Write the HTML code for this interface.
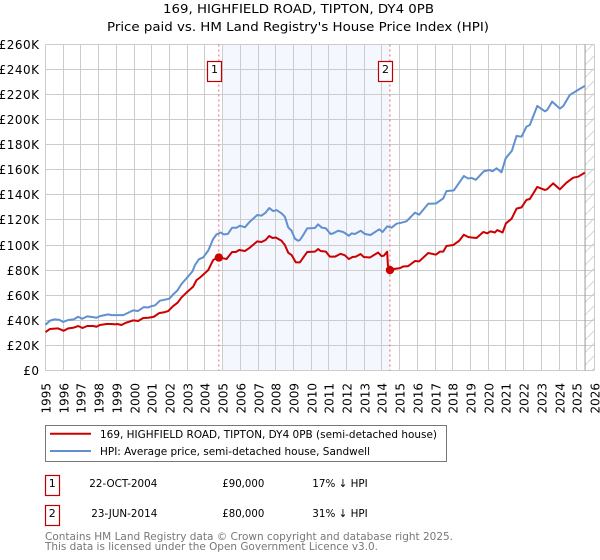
<!DOCTYPE html>
<html>
<head>
<meta charset="utf-8">
<title>169, HIGHFIELD ROAD, TIPTON, DY4 0PB</title>
<style>
html,body{margin:0;padding:0;background:#fff;width:600px;height:560px;overflow:hidden}
svg{display:block;font-family:"DejaVu Sans","Liberation Sans",sans-serif}
</style>
</head>
<body>
<svg id="chart" xmlns="http://www.w3.org/2000/svg" width="600" height="560" viewBox="0 0 600 560">
  <defs>
    <pattern id="hatch" patternUnits="userSpaceOnUse" width="12.5" height="12.5">
      <line x1="0" y1="12.5" x2="12.5" y2="0" stroke="#d4d4d4" stroke-width="1"/>
    </pattern>
  </defs>
  <text x="163" y="13" font-size="12.5" fill="#000" textLength="271" lengthAdjust="spacingAndGlyphs">169, HIGHFIELD ROAD, TIPTON, DY4 0PB</text>
  <text x="107" y="31" font-size="12.5" fill="#000" textLength="382" lengthAdjust="spacingAndGlyphs">Price paid vs. HM Land Registry's House Price Index (HPI)</text>
  <g id="plot"></g>

  <g>
    <rect x="45.5" y="425.5" width="401" height="36" fill="#fff" stroke="#777" stroke-width="1"/>
    <line x1="50" y1="433.7" x2="91" y2="433.7" stroke="#cc0000" stroke-width="2"/>
    <text x="100" y="438" font-size="11" textLength="337" lengthAdjust="spacingAndGlyphs">169, HIGHFIELD ROAD, TIPTON, DY4 0PB (semi-detached house)</text>
    <line x1="50" y1="451" x2="91" y2="451" stroke="#6090d0" stroke-width="2"/>
    <text x="100" y="455" font-size="11" textLength="270" lengthAdjust="spacingAndGlyphs">HPI: Average price, semi-detached house, Sandwell</text>
  </g>

  <g font-size="11">
    <rect x="45.5" y="475.5" width="14" height="20" fill="#fff" stroke="#c00000" stroke-width="1.2"/>
    <text x="52.2" y="487" text-anchor="middle">1</text>
    <text x="89.3" y="487" textLength="68" lengthAdjust="spacingAndGlyphs">22-OCT-2004</text>
    <text x="222.3" y="487" textLength="42" lengthAdjust="spacingAndGlyphs">£90,000</text>
    <text x="312.3" y="487" textLength="55.4" lengthAdjust="spacingAndGlyphs">17% ↓ HPI</text>
  </g>
  <g font-size="11">
    <rect x="45.5" y="505.5" width="14" height="20" fill="#fff" stroke="#c00000" stroke-width="1.2"/>
    <text x="52.2" y="517" text-anchor="middle">2</text>
    <text x="91.3" y="517" textLength="66" lengthAdjust="spacingAndGlyphs">23-JUN-2014</text>
    <text x="222.3" y="517" textLength="42" lengthAdjust="spacingAndGlyphs">£80,000</text>
    <text x="312.3" y="517" textLength="55.4" lengthAdjust="spacingAndGlyphs">31% ↓ HPI</text>
  </g>

  <text x="45" y="540" font-size="11" fill="#777" textLength="408" lengthAdjust="spacingAndGlyphs">Contains HM Land Registry data © Crown copyright and database right 2025.</text>
  <text x="45" y="550" font-size="11" fill="#777" textLength="333" lengthAdjust="spacingAndGlyphs">This data is licensed under the Open Government Licence v3.0.</text>
</svg>
<script>
const xTickYears = [1995,1996,1997,1998,1999,2000,2001,2002,2003,2004,2005,2006,2007,2008,2009,2010,2011,2012,2013,2014,2015,2016,2017,2018,2019,2020,2021,2022,2023,2024,2025,2026];
const yTickValues = [0,20,40,60,80,100,120,140,160,180,200,220,240,260];
const yTickLabels = ['£0','£20K','£40K','£60K','£80K','£100K','£120K','£140K','£160K','£180K','£200K','£220K','£240K','£260K'];

const hpiYears = [1995.02,1995.26,1995.51,1995.79,1996.02,1996.30,1996.62,1996.86,1997.09,1997.37,1997.71,1997.90,1998.09,1998.56,1998.75,1999.41,1999.69,1999.97,2000.25,2000.57,2000.82,2001.01,2001.20,2001.48,2001.76,2002.01,2002.23,2002.46,2002.70,2002.98,2003.32,2003.46,2003.68,2003.93,2004.21,2004.49,2004.68,2004.91,2005.09,2005.32,2005.56,2005.81,2006.00,2006.28,2006.56,2006.98,2007.22,2007.45,2007.66,2007.88,2008.07,2008.35,2008.54,2008.73,2008.92,2009.11,2009.29,2009.39,2009.58,2009.80,2010.24,2010.42,2010.61,2010.86,2011.12,2011.27,2011.55,2011.84,2012.16,2012.31,2012.50,2012.82,2013.06,2013.38,2013.87,2014.06,2014.32,2014.57,2014.85,2015.13,2015.41,2015.89,2016.13,2016.64,2017.07,2017.49,2017.67,2018.09,2018.65,2018.90,2019.09,2019.33,2019.78,2020.12,2020.27,2020.50,2020.78,2021.01,2021.37,2021.63,2021.91,2022.19,2022.38,2022.80,2023.23,2023.36,2023.64,2024.08,2024.27,2024.64,2025.11,2025.49];
const hpiValues = [36.4,39.6,40.7,40.4,38.6,40.2,40.7,42.8,41.2,43.1,42.5,42,43.3,44.7,44.1,44.1,46,47.9,47.4,50.5,50.2,51.3,51.8,55.6,56.4,57.2,60.6,63.6,68.9,73.4,79,84,88.6,90.2,95.5,104.8,108.5,110,108.5,108.8,113.8,113.8,115.4,114.1,118.6,123.9,123.4,125.8,129.5,127.1,127.9,125.3,122.6,114,111.4,105,103.4,104,108,113.3,113.6,116.5,114,113.3,108.8,109.3,111.4,110.4,107.4,109.3,108.8,111.4,108.8,108,112.5,110.4,114.9,113.8,117,117.8,118.9,125.8,124.2,132.9,133.1,137.2,143,143.6,155,153,153.5,152,158.8,159.8,158.8,161.2,158,169,175.3,187,186.4,194.4,195.7,210.9,206.6,207.7,214.4,208.8,210.9,219.7,223.7,226.9];

const priceYears = [1995.02,1995.26,1995.73,1996.05,1996.30,1996.58,1996.86,1997.11,1997.37,1997.71,1997.90,1998.09,1998.47,1998.75,1998.94,1999.07,1999.31,1999.56,1999.97,2000.25,2000.54,2000.82,2001.14,2001.44,2001.76,2001.95,2002.23,2002.48,2002.70,2002.98,2003.36,2003.55,2003.74,2004.21,2004.49,2004.77,2005.06,2005.24,2005.56,2005.77,2005.96,2006.28,2006.56,2006.98,2007.22,2007.45,2007.66,2007.84,2008.03,2008.35,2008.54,2008.73,2008.92,2009.16,2009.39,2009.58,2009.80,2010.24,2010.42,2010.56,2010.86,2011.08,2011.37,2011.69,2011.93,2012.16,2012.36,2012.55,2012.82,2013.00,2013.34,2013.81,2014.00,2014.13,2014.32,2014.36,2014.44,2014.75,2015.04,2015.23,2015.51,2015.89,2016.13,2016.64,2017.07,2017.30,2017.49,2017.67,2018.05,2018.39,2018.65,2018.90,2019.09,2019.37,2019.75,2019.97,2020.16,2020.41,2020.54,2020.84,2021.03,2021.35,2021.63,2021.91,2022.19,2022.38,2022.80,2023.23,2023.36,2023.70,2024.08,2024.45,2024.83,2025.11,2025.49];
const priceValues = [30.6,33,33.5,31.6,33.5,34,35.4,33.8,35.4,35.4,34.8,36.2,37,37,36.7,37,36.2,38,39.9,39.4,41.8,42,42.8,45.7,46.5,47.3,51.3,54,58.2,62,66.8,72,74,80,88,90.4,89.4,88.8,94.4,94.4,96,95.2,97.9,102.9,102.4,104,107.2,105.6,106,103.4,100,93.9,92,86.2,86.2,90,94.4,94.7,96.8,95.2,94.7,90.7,90.7,93,91.8,88.8,90.4,90.7,92.8,90.4,90,94,91.2,91.4,94.7,84,80,81,81.6,82.9,83.2,87.2,87,93.6,92.3,94.7,94.7,99.2,100,103.4,108.2,106.4,106,105.6,110.4,109.3,110.9,110,111.9,110,117.2,121,129,130,136,136.7,146.3,143.9,144.5,149.2,144.4,149.7,153.7,154.5,157.7];

const saleNumbers = ['1','2'];
const saleYears = [2004.81,2014.476];
const saleValues = [90,80];
const shadeStartYear = 2005;
const dataEndYear = 2025.5;

const NS = 'http://www.w3.org/2000/svg';
const plot = document.getElementById('plot');
function xGrid(y){ return Math.floor(45.5 + 17.71 * (y - 1995)) + 0.5; }
function xScale(y){ return 45.2 + 17.7 * (y - 1995); }
function yScale(v){ return 370.4 - v * (326 / 260); }
function yGrid(v){ return Math.floor(yScale(v)) + 0.5; }
function make(tag, attrs, text){
  const el = document.createElementNS(NS, tag);
  for (const k in attrs) el.setAttribute(k, attrs[k]);
  if (text !== undefined) el.textContent = text;
  plot.appendChild(el);
  return el;
}
const left = xGrid(xTickYears[0]);
const right = xGrid(xTickYears[xTickYears.length - 1]);
const top_ = yGrid(yTickValues[yTickValues.length - 1]);
const bottom = yGrid(yTickValues[0]);

const shade = make('rect', {x: xGrid(shadeStartYear), y: top_, width: xScale(saleYears[1]) - xGrid(shadeStartYear), height: bottom - top_, fill: '#f4f7fe'});



const hatch = make('rect', {x: xScale(dataEndYear), y: top_, width: right - xScale(dataEndYear), height: bottom - top_, fill: 'url(#hatch)'});



xTickYears.forEach(function(yr){
  const g = make('line', {x1: xGrid(yr), x2: xGrid(yr), y1: top_, y2: bottom, stroke: '#ccc', 'stroke-width': 1});
  
  
  const px = xGrid(yr) + 0.5;
  const t = make('text', {x: 0, y: 0, 'font-size': 12, 'text-anchor': 'end', fill: '#000', transform: 'translate(' + (px + 4.5) + ',383) rotate(-90)'}, String(yr));
  
  
});
yTickValues.forEach(function(v, i){
  const g = make('line', {x1: left, x2: right, y1: yGrid(v), y2: yGrid(v), stroke: '#ccc', 'stroke-width': 1});
  
  
  const t = make('text', {x: 39.5, y: yGrid(v) + 4.5, 'font-size': 12, 'letter-spacing': 0.5, 'text-anchor': 'end', fill: '#000'}, yTickLabels[i]);
  
  
});

const endLine = make('line', {x1: xScale(dataEndYear), x2: xScale(dataEndYear), y1: top_, y2: bottom, stroke: '#999', 'stroke-width': 1});



saleYears.forEach(function(yr){
  const l = make('line', {x1: xScale(yr), x2: xScale(yr), y1: top_, y2: bottom, stroke: '#f06070', 'stroke-width': 1, 'stroke-dasharray': '2 3'});
  
  
});

function linePath(xs, ys){
  return xs.map(function(x, i){ return (i ? 'L' : 'M') + xScale(x).toFixed(2) + ' ' + yScale(ys[i]).toFixed(2); }).join(' ');
}
const hpiLine = make('path', {d: linePath(hpiYears, hpiValues), fill: 'none', stroke: '#6090d0', 'stroke-width': 2, 'stroke-linejoin': 'round'});


const priceLine = make('path', {d: linePath(priceYears, priceValues), fill: 'none', stroke: '#cc0000', 'stroke-width': 2, 'stroke-linejoin': 'round'});



saleYears.forEach(function(yr, i){
  const dot = make('circle', {cx: xScale(yr), cy: yScale(saleValues[i]), r: 4.2, fill: '#cc0000'});
  
  
  const bx = Math.floor(xScale(yr)) - 10.5;
  const box = make('rect', {x: bx, y: 61.5, width: 14, height: 20, fill: '#fff', stroke: '#c00000', 'stroke-width': 1.2});
  
  
  const num = make('text', {x: bx + 7, y: 73, 'font-size': 11, 'text-anchor': 'middle', fill: '#000'}, saleNumbers[i]);
  
  
});
</script>
</body>
</html>
